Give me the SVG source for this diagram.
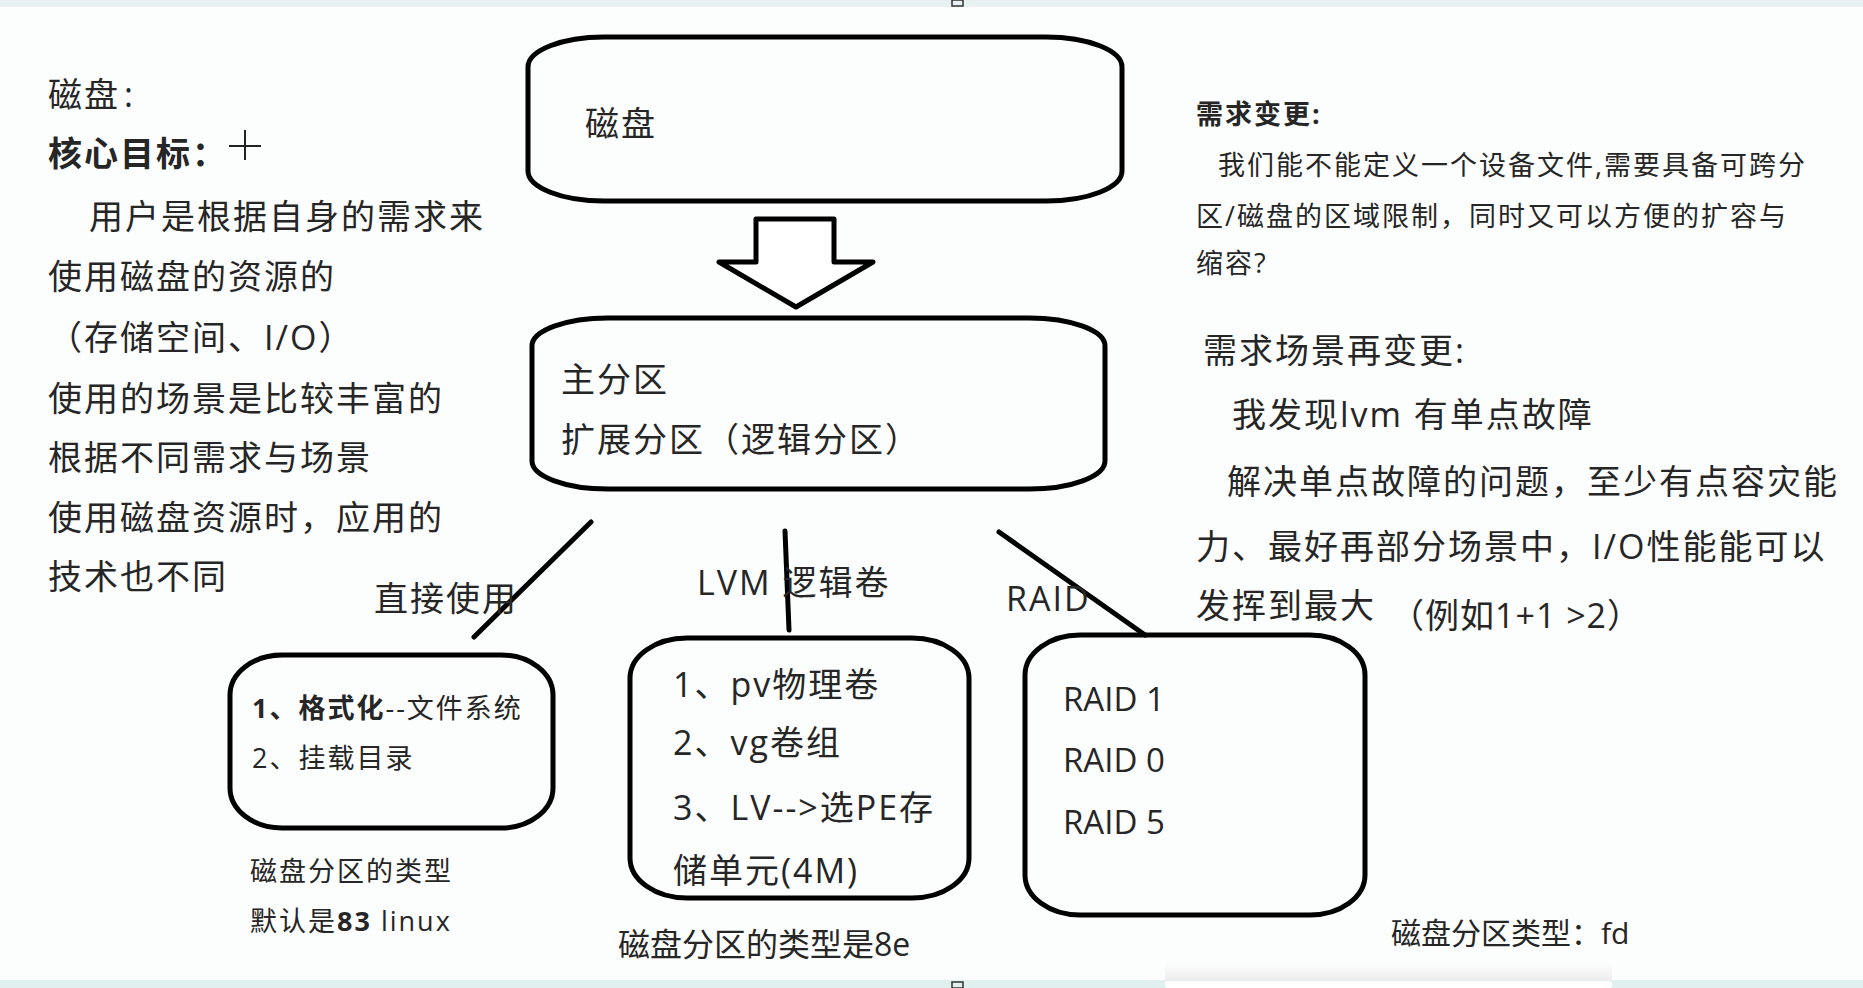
<svg xmlns="http://www.w3.org/2000/svg" width="1863" height="988" viewBox="0 0 1863 988">
<defs>
<style>
.t{font-family:"Open Sans","Noto Sans CJK SC",sans-serif;fill:#262626}
.b34{font-size:34px;letter-spacing:2px}
.s27{font-size:27px;letter-spacing:2px}
.bold{font-weight:bold}
.box{fill:none;stroke:#000;stroke-width:5}
.ln{stroke:#000;stroke-width:5;stroke-linecap:round}
</style>
<linearGradient id="sh" x1="0" y1="0" x2="0" y2="1">
<stop offset="0" stop-color="#f4f3f4" stop-opacity="0"/>
<stop offset="1" stop-color="#ebeaec"/>
</linearGradient>
</defs>
<rect width="1863" height="988" fill="#fcfdfd"/>
<rect x="0" y="0" width="1863" height="7" fill="#e8f2f2"/>
<rect x="952" y="0" width="11" height="6" fill="none" stroke="#333" stroke-width="1.5"/>
<rect x="1165" y="962" width="447" height="19" fill="url(#sh)"/>
<rect x="0" y="980" width="1863" height="8" fill="#e0f0ef"/>
<rect x="1165" y="981" width="447" height="7" rx="3" fill="#ffffff"/>
<rect x="952" y="982" width="11" height="6" fill="none" stroke="#333" stroke-width="1.5"/>

<g id="notes-left">
<text class="t b34" x="48" y="107">磁盘<tspan dx="4">:</tspan></text>
<text class="t b34 bold" x="48" y="166">核心目标：</text>
<path d="M229 146 H261 M245 130 V160" stroke="#222" stroke-width="2"/>
<text class="t b34" x="89" y="229">用户是根据自身的需求来</text>
<text class="t b34" x="48" y="289">使用磁盘的资源的</text>
<text class="t b34" x="48" y="350">（存储空间、I/O）</text>
<text class="t b34" x="48" y="411">使用的场景是比较丰富的</text>
<text class="t b34" x="48" y="470">根据不同需求与场景</text>
<text class="t b34" x="48" y="530">使用磁盘资源时，应用的</text>
<text class="t b34" x="48" y="589">技术也不同</text>
</g>

<g id="notes-right">
<text class="t s27 bold" x="1196" y="124">需求变更:</text>
<text class="t s27" x="1218" y="175">我们能不能定义一个设备文件,需要具备可跨分</text>
<text class="t s27" x="1196" y="226">区/磁盘的区域限制，同时又可以方便的扩容与</text>
<text class="t s27" x="1196" y="273">缩容?</text>
<text class="t b34" x="1203" y="363">需求场景再变更:</text>
<text class="t b34" x="1232" y="427">我发现lvm 有单点故障</text>
<text class="t b34" x="1227" y="494">解决单点故障的问题，至少有点容灾能</text>
<text class="t b34" x="1196" y="559">力、最好再部分场景中，I/O性能能可以</text>
<text class="t b34" x="1196" y="618">发挥到最大</text>
<text class="t" style="font-size:34px;letter-spacing:1px" x="1390" y="628">（例如1+1 &gt;2）</text>
</g>

<g id="node-disk">
<rect class="box" x="528" y="37" width="594" height="164" rx="76" ry="30"/>
<text class="t b34" x="585" y="136">磁盘</text>
</g>

<g id="node-arrow">
<polygon points="756,219 834,219 834,262 873,262 796,307 719,262 756,262" fill="#fff" stroke="#000" stroke-width="5" stroke-linejoin="round"/>
</g>

<g id="node-partition">
<rect class="box" x="532" y="318" width="573" height="171" rx="76" ry="28"/>
<text class="t b34" x="561" y="392">主分区</text>
<text class="t b34" x="561" y="452">扩展分区（逻辑分区）</text>
</g>

<g id="connectors">
<line class="ln" x1="591" y1="522" x2="474" y2="637"/>
<line class="ln" x1="785" y1="531" x2="789" y2="630"/>
<line class="ln" x1="999" y1="532" x2="1145" y2="635"/>
</g>

<g id="label-direct">
<text class="t b34" x="374" y="611">直接使用</text>
</g>
<g id="label-lvm">
<text class="t b34" x="697" y="595">LVM 逻辑卷</text>
</g>
<g id="label-raid">
<text class="t b34" x="1006" y="611">RAID</text>
</g>

<g id="node-direct">
<rect class="box" x="230" y="655" width="323" height="173" rx="52" ry="40"/>
<text class="t s27" x="252" y="718"><tspan class="bold">1、格式化</tspan>--文件系统</text>
<text class="t s27" x="252" y="768">2、挂载目录</text>
</g>
<g id="note-direct">
<text class="t s27" x="250" y="881">磁盘分区的类型</text>
<text class="t s27" x="250" y="931">默认是<tspan class="bold">83</tspan> linux</text>
</g>

<g id="node-lvm">
<rect class="box" x="630" y="638" width="339" height="260" rx="57" ry="40"/>
<text class="t b34" x="673" y="697">1、pv物理卷</text>
<text class="t b34" x="673" y="755">2、vg卷组</text>
<text class="t b34" x="673" y="820">3、LV--&gt;选PE存</text>
<text class="t b34" x="673" y="883">储单元(4M)</text>
</g>
<g id="note-lvm">
<text class="t" style="font-size:32px" x="618" y="956">磁盘分区的类型是8e</text>
</g>

<g id="node-raid">
<rect class="box" x="1025" y="635" width="340" height="280" rx="55" ry="40"/>
<text class="t" style="font-size:33px" x="1063" y="711">RAID 1</text>
<text class="t" style="font-size:33px" x="1063" y="772">RAID 0</text>
<text class="t" style="font-size:33px" x="1063" y="834">RAID 5</text>
</g>
<g id="note-raid">
<text class="t" style="font-size:30px" x="1391" y="944">磁盘分区类型：fd</text>
</g>
</svg>
